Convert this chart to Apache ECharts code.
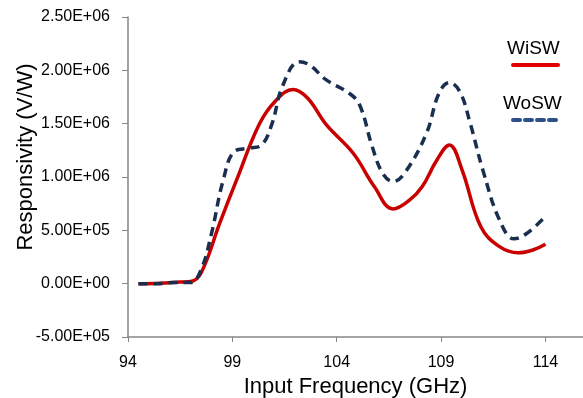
<!DOCTYPE html>
<html><head><meta charset="utf-8">
<script src="https://cdn.jsdelivr.net/npm/echarts@6/dist/echarts.min.js"></script>
<style>html,body{margin:0;padding:0;background:#fff}#c{width:583px;height:398px}</style>
</head><body><div id="c"></div>
<script>
var wiswFreq = [94.5, 95.5, 96.5, 97.0, 97.5, 98.4, 99.2, 100.3, 101.1, 101.9, 102.6, 103.5, 104.8, 105.8, 106.7, 107.5, 108.1, 108.8, 109.4, 110.0, 110.9, 111.8, 112.7, 113.4, 114.0];
var wiswVal = [0, 5000, 15000, 20000, 100000, 570000, 970000, 1500000, 1720000, 1820000, 1740000, 1490000, 1220000, 910000, 700000, 785000, 910000, 1160000, 1300000, 1070000, 535000, 347000, 290000, 316000, 370000];
var woswFreq = [94.5, 95.4, 96.2, 97.0, 97.5, 98.0, 98.56, 99.1, 99.8, 100.4, 100.9, 101.4, 102.2, 102.7, 103.5, 104.6, 105.1, 105.7, 106.2, 106.7, 107.3, 108.3, 108.9, 109.4, 109.9, 110.4, 111.0, 111.8, 112.5, 113.1, 114.0];
var woswVal = [0, 0, 10000, 10000, 130000, 470000, 970000, 1240000, 1270000, 1300000, 1500000, 1850000, 2080000, 2050000, 1910000, 1785000, 1675000, 1285000, 1035000, 957000, 1050000, 1410000, 1785000, 1885000, 1800000, 1500000, 1066000, 597000, 420000, 470000, 630000];
var seriesNames = ['WiSW', 'WoSW'];
var xTitle = 'Input Frequency (GHz)';
var yTitle = 'Responsivity (V/W)';

function pairs(xs, ys){ return xs.map(function(x,i){ return [x, ys[i]]; }); }
function sci(v){
  if (v === 0) return '0.00E+00';
  var e = Math.floor(Math.log10(Math.abs(v)));
  var m = v / Math.pow(10, e);
  if (Math.abs(m) >= 9.995) { m /= 10; e += 1; }
  var es = (e < 0 ? '-' : '+') + (Math.abs(e) < 10 ? '0' : '') + Math.abs(e);
  return m.toFixed(2) + 'E' + es;
}
var FONT = 'Liberation Sans, Arial, sans-serif';
var chart = echarts.init(document.getElementById('c'), null, {renderer:'canvas'});
chart.setOption({
  animation: false,
  backgroundColor: '#fff',
  grid: {left: 128, top: 17, right: 0, bottom: 61, containLabel: false, outerBoundsMode: 'none'},
  xAxis: {
    type: 'value', min: 94, max: 115.8, interval: 5,
    name: xTitle, nameLocation: 'middle', nameGap: 39,
    nameTextStyle: {fontFamily: FONT, fontSize: 22, color: '#000'},
    axisLine: {onZero: false, lineStyle: {color: '#868686', width: 1.5}},
    axisTick: {show: true, length: 5, lineStyle: {color: '#868686'}},
    axisLabel: {fontFamily: FONT, fontSize: 16, color: '#000', margin: 18, showMaxLabel: false},
    splitLine: {show: false}
  },
  yAxis: {
    type: 'value', min: -500000, max: 2500000, interval: 500000,
    axisLine: {show: true, lineStyle: {color: '#868686', width: 1.5}},
    axisTick: {show: true, length: 6, lineStyle: {color: '#868686'}},
    axisLabel: {fontFamily: FONT, fontSize: 16, color: '#000', margin: 18, formatter: sci},
    splitLine: {show: false}
  },
  series: [
    {name: seriesNames[0], type: 'line', data: pairs(wiswFreq, wiswVal), smooth: 0.4, showSymbol: false,
     lineStyle: {color: '#c80000', width: 3.5}, z: 2},
    {name: seriesNames[1], type: 'line', data: pairs(woswFreq, woswVal), smooth: 0.4, showSymbol: false,
     lineStyle: {color: '#1a2e4f', width: 3.5, type: [9, 6]}, z: 3}
  ],
  graphic: [
    {type: 'text', x: 26, y: 157, rotation: Math.PI / 2,
     style: {text: yTitle, font: '22px ' + FONT, fill: '#000', align: 'center', verticalAlign: 'middle'}},
    {type: 'text', left: 507, top: 39, style: {text: seriesNames[0], font: '19px ' + FONT, fill: '#000'}},
    {type: 'line', shape: {x1: 513, y1: 65, x2: 558, y2: 65}, style: {stroke: '#e00000', lineWidth: 4, lineCap: 'round'}},
    {type: 'text', left: 503, top: 94, style: {text: seriesNames[1], font: '19px ' + FONT, fill: '#000'}},
    {type: 'line', shape: {x1: 513, y1: 120, x2: 558, y2: 120}, style: {stroke: '#2a4f8a', lineWidth: 4, lineDash: [7, 5], lineCap: 'round'}}
  ]
});
</script></body></html>
